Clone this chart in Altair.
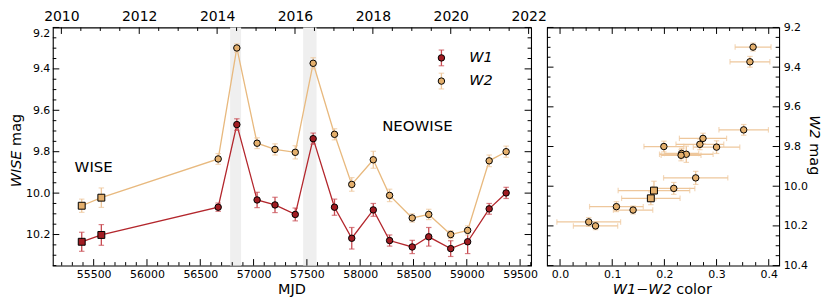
import altair as alt
import numpy as np
import pandas as pd

# ---------------- data ----------------
mjd = [55388, 55572, 56668, 56843, 57033, 57201, 57391, 57559, 57759, 57921,
       58123, 58276, 58488, 58643, 58849, 59008, 59210, 59369]
w1 = [10.235, 10.202, 10.068, 9.669, 10.033, 10.057, 10.103, 9.737, 10.068, 10.218,
      10.081, 10.229, 10.260, 10.211, 10.268, 10.235, 10.076, 9.999]
w1_err = [0.046, 0.050, 0.020, 0.028, 0.037, 0.037, 0.031, 0.027, 0.039, 0.052,
          0.031, 0.027, 0.032, 0.045, 0.038, 0.057, 0.026, 0.027]
w2 = [10.061, 10.022, 9.835, 9.299, 9.759, 9.789, 9.803, 9.373, 9.716, 9.958,
      9.839, 10.011, 10.120, 10.103, 10.200, 10.180, 9.844, 9.800]
w2_err = [0.032, 0.047, 0.026, 0.020, 0.026, 0.027, 0.032, 0.027, 0.027, 0.033,
          0.041, 0.030, 0.020, 0.025, 0.019, 0.022, 0.028, 0.027]
survey = ["WISE"] * 2 + ["NEOWISE"] * 16

band_start = [56780, 57465]
band_end = [56883, 57591]

ann_text = ["WISE", "NEOWISE"]
ann_mjd = [55500, 58537]
ann_mag = [9.876, 9.677]

legend_labels = ["W1", "W2"]
legend_mjd = [58762, 58762]
legend_text_mjd = [59023, 59023]
legend_mag = [9.347, 9.459]
legend_err = [0.038, 0.038]

# tick labels
mjd_major = [55500, 56000, 56500, 57000, 57500, 58000, 58500, 59000, 59500]
year_major = [2010, 2012, 2014, 2016, 2018, 2020, 2022]
mag_major = [9.2, 9.4, 9.6, 9.8, 10.0, 10.2]
col_major = [0.0, 0.1, 0.2, 0.3, 0.4]
w2_major = [9.2, 9.4, 9.6, 9.8, 10.0, 10.2, 10.4]

mjd_minor = [v for v in range(55200, 59601, 100) if v % 500]
year_minor = [2010.5 + i for i in range(12)] + [2011 + 2 * i for i in range(6)]
mag_minor = [round(9.2 + 0.05 * i, 3) for i in range(24)]
mag_minor = [v for v in mag_minor if round(v * 5, 6) != round(v * 5)]
col_minor = [round(0.025 * i, 3) for i in range(1, 17)]
col_minor = [v for v in col_minor if round(v * 10, 6) != round(v * 10)]
w2_minor = [round(9.2 + 0.05 * i, 3) for i in range(25)]
w2_minor = [v for v in w2_minor if round(v * 5, 6) != round(v * 5)]

# ---------------- styling ----------------
FONT = "DejaVu Sans"
W_L, W_R, H = 480, 233, 239
MAJ, MIN = 6.5, 3.5

RED_LINE, RED_ERR, RED_FILL = "#b3262c", "#c84a51", "#a11c22"
TAN_LINE, TAN_ERR, TAN_FILL = "#e8b97e", "#eec79c", "#e4af6c"
BAND = "#efefef"

MJD_DOM = [55117, 59603]
MAG_DOM = [9.2, 10.35]
COL_DOM = [-0.025, 0.42]
W2_DOM = [9.2, 10.4]
YEAR_DOM = [2010 + (d - 55197) / 365.25 for d in MJD_DOM]

sx = alt.Scale(domain=MJD_DOM, nice=False, zero=False)
sy = alt.Scale(domain=MAG_DOM, nice=False, zero=False, reverse=True)
syr = alt.Scale(domain=YEAR_DOM, nice=False, zero=False)
scx = alt.Scale(domain=COL_DOM, nice=False, zero=False)
scy = alt.Scale(domain=W2_DOM, nice=False, zero=False, reverse=True)


def label_axis(values, fmt, orient, size=11, pad=3, **kw):
    return alt.Axis(values=values, format=fmt, orient=orient, ticks=False, tickSize=0,
                    domain=False, grid=False, labelFontSize=size, labelPadding=pad,
                    labelFont=FONT, labelColor="black", title=None, **kw)


# one axis definition per scale, repeated identically in every layer that uses it
AX = {
    "mjd": (sx, label_axis(mjd_major, "d", "bottom", 11, 3)),
    "mag": (sy, label_axis(mag_major, ".1f", "left", 11, 3, labelFlush=True)),
    "yr": (syr, label_axis(year_major, "d", "top", 14, 7, labelBaseline="alphabetic")),
    "col": (scx, label_axis(col_major, ".1f", "bottom", 11, 3)),
    "w2": (scy, label_axis(w2_major, ".1f", "right", 11, 4)),
}


def X(field, key):
    s, a = AX[key]
    return alt.X(f"{field}:Q", scale=s, axis=a)


def Y(field, key):
    s, a = AX[key]
    return alt.Y(f"{field}:Q", scale=s, axis=a)


one = pd.DataFrame({"k": [0]})


def xticks(vals, key, L, top=True, bottom=True):
    c = alt.Chart(pd.DataFrame({"t": vals})).mark_rule(color="black", strokeWidth=1)
    out = []
    if bottom:
        out.append(c.encode(x=X("t", key), y=alt.value(H), y2=alt.value(H - L)))
    if top:
        out.append(c.encode(x=X("t", key), y=alt.value(0), y2=alt.value(L)))
    return out


def yticks(vals, key, W, L):
    c = alt.Chart(pd.DataFrame({"t": vals})).mark_rule(color="black", strokeWidth=1)
    return [c.encode(y=Y("t", key), x=alt.value(0), x2=alt.value(L)),
            c.encode(y=Y("t", key), x=alt.value(W), x2=alt.value(W - L))]


def txt(s, x, y, size=14.5, **kw):
    return alt.Chart(one).mark_text(text=s, font=FONT, fontSize=size, color="black", **kw).encode(
        x=alt.value(x), y=alt.value(y))


def series(mag, err):
    m = np.array(mag)
    e = np.array(err)
    return pd.DataFrame({"mjd": mjd, "mag": m, "lo": m - e, "hi": m + e, "survey": survey})


d1 = series(w1, w1_err)
d2 = series(w2, w2_err)


def series_layers(d, line_c, err_c, fill_c):
    base = alt.Chart(d)
    line = base.mark_line(color=line_c, strokeWidth=1.3).encode(x=X("mjd", "mjd"), y=Y("mag", "mag"))
    bar = base.mark_rule(color=err_c, strokeWidth=1.3).encode(
        x=X("mjd", "mjd"), y=Y("lo", "mag"), y2="hi:Q")
    cap1 = base.mark_tick(color=err_c, orient="horizontal", size=5.5, thickness=1.2).encode(
        x=X("mjd", "mjd"), y=Y("lo", "mag"))
    cap2 = base.mark_tick(color=err_c, orient="horizontal", size=5.5, thickness=1.2).encode(
        x=X("mjd", "mjd"), y=Y("hi", "mag"))
    sq = base.transform_filter(alt.datum.survey == "WISE").mark_point(
        shape="square", filled=True, fill=fill_c, stroke="black", strokeWidth=1, size=48, opacity=1
    ).encode(x=X("mjd", "mjd"), y=Y("mag", "mag"))
    ci = base.transform_filter(alt.datum.survey == "NEOWISE").mark_point(
        shape="circle", filled=True, fill=fill_c, stroke="black", strokeWidth=1, size=42, opacity=1
    ).encode(x=X("mjd", "mjd"), y=Y("mag", "mag"))
    return [line, bar, cap1, cap2], [sq, ci]


bands = alt.Chart(pd.DataFrame({"s": band_start, "e": band_end})).mark_rect(color=BAND).encode(
    x=X("s", "mjd"), x2="e:Q", y=alt.value(0), y2=alt.value(H))

l1, p1 = series_layers(d1, RED_LINE, RED_ERR, RED_FILL)
l2, p2 = series_layers(d2, TAN_LINE, TAN_ERR, TAN_FILL)

ann = alt.Chart(pd.DataFrame({"t": ann_text, "mjd": ann_mjd, "mag": ann_mag})).mark_text(
    font=FONT, fontSize=15, color="black", align="center", baseline="middle").encode(
    x=X("mjd", "mjd"), y=Y("mag", "mag"), text="t:N")

leg = pd.DataFrame({"lab": legend_labels, "mjd": legend_mjd, "tx": legend_text_mjd,
                    "mag": legend_mag,
                    "lo": np.array(legend_mag) - np.array(legend_err),
                    "hi": np.array(legend_mag) + np.array(legend_err),
                    "ec": [RED_ERR, TAN_ERR], "fc": [RED_FILL, TAN_FILL]})
lb = alt.Chart(leg)
leg_layers = [
    lb.mark_rule(strokeWidth=1.3).encode(x=X("mjd", "mjd"), y=Y("lo", "mag"), y2="hi:Q",
                                         color=alt.Color("ec:N", scale=None)),
    lb.mark_tick(orient="horizontal", size=5.5, thickness=1.2).encode(
        x=X("mjd", "mjd"), y=Y("lo", "mag"), color=alt.Color("ec:N", scale=None)),
    lb.mark_tick(orient="horizontal", size=5.5, thickness=1.2).encode(
        x=X("mjd", "mjd"), y=Y("hi", "mag"), color=alt.Color("ec:N", scale=None)),
    lb.mark_point(shape="circle", filled=True, stroke="black", strokeWidth=1, size=42, opacity=1).encode(
        x=X("mjd", "mjd"), y=Y("mag", "mag"), fill=alt.Fill("fc:N", scale=None)),
    lb.mark_text(font=FONT, fontSize=14.5, fontStyle="italic", align="left", baseline="middle",
                 color="black").encode(x=X("tx", "mjd"), y=Y("mag", "mag"), text="lab:N"),
]

left_titles = [
    txt("WISE", -32, H / 2 + 4, angle=270, align="right", baseline="alphabetic", fontStyle="italic"),
    txt("mag", -32, H / 2 - 0.6, angle=270, align="left", baseline="alphabetic"),
    txt("MJD", W_L / 2, H + 29, align="center", baseline="alphabetic"),
]

main = alt.layer(
    bands, *l1, *l2, *p1, *p2, ann, *leg_layers,
    *xticks(mjd_major, "mjd", MAJ, top=False), *xticks(mjd_minor, "mjd", MIN, top=False),
    *yticks(mag_major, "mag", W_L, MAJ), *yticks(mag_minor, "mag", W_L, MIN),
    *left_titles,
)

years = alt.layer(*xticks(year_major, "yr", MAJ, bottom=False),
                  *xticks(year_minor, "yr", MIN, bottom=False))

left = alt.layer(main, years).resolve_scale(x="independent").properties(width=W_L, height=H)

# ---------------- right panel ----------------
c = np.array(w1) - np.array(w2)
ce = np.sqrt(np.array(w1_err) ** 2 + np.array(w2_err) ** 2)
m2 = np.array(w2)
e2 = np.array(w2_err)
dc = pd.DataFrame({"col": c, "clo": c - ce, "chi": c + ce, "w2": m2, "lo": m2 - e2, "hi": m2 + e2,
                   "survey": survey})
rb = alt.Chart(dc)

right_layers = [
    rb.mark_rule(color=TAN_ERR, strokeWidth=1.3).encode(x=X("clo", "col"), x2="chi:Q", y=Y("w2", "w2")),
    rb.mark_tick(color=TAN_ERR, orient="vertical", size=5.5, thickness=1.2).encode(
        x=X("clo", "col"), y=Y("w2", "w2")),
    rb.mark_tick(color=TAN_ERR, orient="vertical", size=5.5, thickness=1.2).encode(
        x=X("chi", "col"), y=Y("w2", "w2")),
    rb.mark_rule(color=TAN_ERR, strokeWidth=1.3).encode(x=X("col", "col"), y=Y("lo", "w2"), y2="hi:Q"),
    rb.mark_tick(color=TAN_ERR, orient="horizontal", size=5.5, thickness=1.2).encode(
        x=X("col", "col"), y=Y("lo", "w2")),
    rb.mark_tick(color=TAN_ERR, orient="horizontal", size=5.5, thickness=1.2).encode(
        x=X("col", "col"), y=Y("hi", "w2")),
    rb.transform_filter(alt.datum.survey == "WISE").mark_point(
        shape="square", filled=True, fill=TAN_FILL, stroke="black", strokeWidth=1, size=48, opacity=1
    ).encode(x=X("col", "col"), y=Y("w2", "w2")),
    rb.transform_filter(alt.datum.survey == "NEOWISE").mark_point(
        shape="circle", filled=True, fill=TAN_FILL, stroke="black", strokeWidth=1, size=42, opacity=1
    ).encode(x=X("col", "col"), y=Y("w2", "w2")),
    *xticks(col_major, "col", MAJ), *xticks(col_minor, "col", MIN),
    *yticks(w2_major, "w2", W_R, MAJ), *yticks(w2_minor, "w2", W_R, MIN),
    txt("W1\u2212W2", 0.537 * W_R, H + 29, align="right", baseline="alphabetic", fontStyle="italic"),
    txt("color", 0.537 * W_R + 4.6, H + 29, align="left", baseline="alphabetic"),
    txt("W2", W_R + 31, 0.467 * H, angle=90, align="right", baseline="alphabetic", fontStyle="italic"),
    txt("mag", W_R + 31, 0.467 * H + 4.6, angle=90, align="left", baseline="alphabetic"),
]
right = alt.layer(*right_layers).properties(width=W_R, height=H)

chart = alt.hconcat(left, right, spacing=16, bounds="flush").properties(padding=0).configure_view(
    stroke="black", strokeWidth=1.1).configure_axis(labelFont=FONT, labelColor="black")

chart.save("out.html", embed_options={"renderer": "svg", "actions": False})
